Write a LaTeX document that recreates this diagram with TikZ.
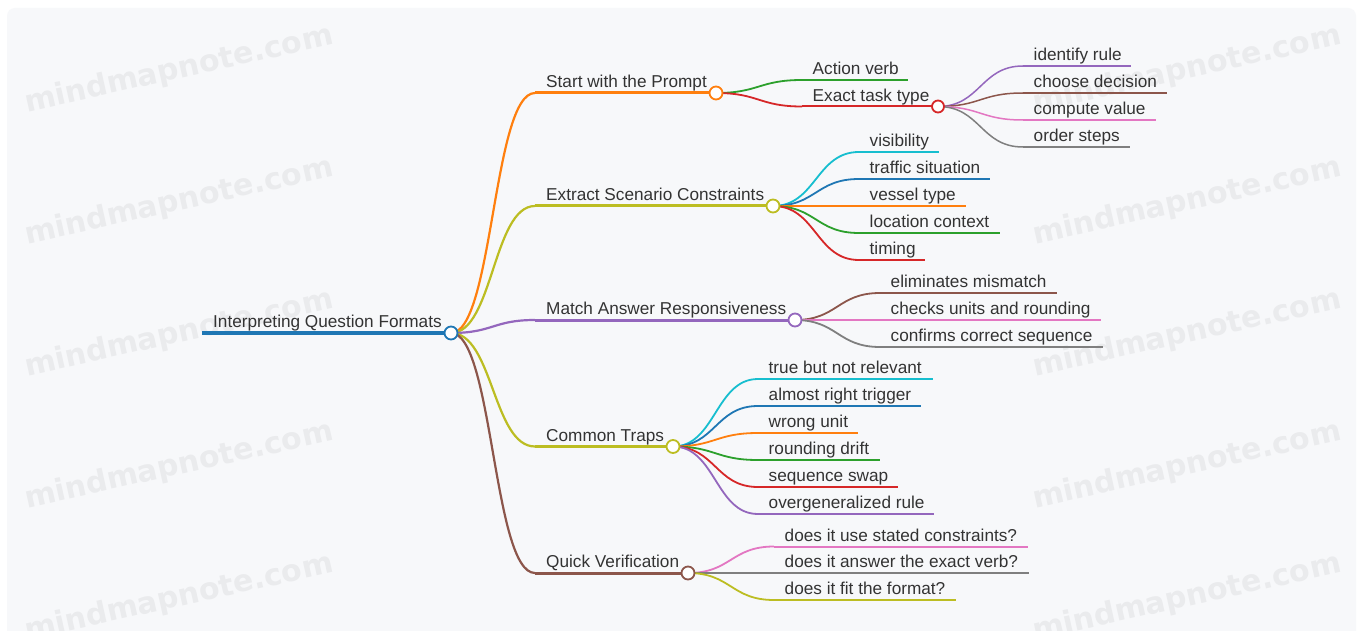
\documentclass[tikz,border=0pt]{standalone}
\usepackage{fontspec}
\setmainfont{Liberation Sans}
\newfontfamily\wmfont{DejaVu Sans}[BoldFont={DejaVu Sans Bold}]
\usetikzlibrary{calc}
\definecolor{mmblue}{HTML}{1F77B4}
\definecolor{mmorange}{HTML}{FF7F0E}
\definecolor{mmgreen}{HTML}{2CA02C}
\definecolor{mmred}{HTML}{D62728}
\definecolor{mmpurple}{HTML}{9467BD}
\definecolor{mmbrown}{HTML}{8C564B}
\definecolor{mmpink}{HTML}{E377C2}
\definecolor{mmgray}{HTML}{7F7F7F}
\definecolor{mmolive}{HTML}{BCBD22}
\definecolor{mmcyan}{HTML}{17BECF}
\definecolor{txt}{HTML}{333333}
\definecolor{bgc}{HTML}{F7F8FA}
\definecolor{wmc}{HTML}{EAEBED}
\tikzset{
  lbl/.style={anchor=base west, inner sep=0pt, text=txt, font=\fontsize{17.2}{20}\selectfont},
  wm/.style={text=wmc, inner sep=0pt, rotate=12.5, font=\wmfont\bfseries\fontsize{30}{33}\selectfont},
  l0/.style={#1, line width=4.5pt},
  l1/.style={#1, line width=3pt},
  l2/.style={#1, line width=2pt},
  l3/.style={#1, line width=1.6pt},
  k1/.style={#1, line width=2.2pt},
  k2/.style={#1, line width=1.8pt},
  k3/.style={#1, line width=1.5pt},
  dot/.style={draw=#1, fill=white, line width=1.8pt},
}
% name, x start, x end, y, line style, text, text offset
\newcommand\mmitem[7]{%
  \coordinate (#1-s) at (#2,#4);
  \coordinate (#1-e) at (#3,#4);
  \draw[#5] (#1-s) -- (#1-e);
  \node[lbl] (#1) at ([xshift=#7pt,yshift=5.2pt]#1-s) {#6};}
% from, to, style
\newcommand\mmlink[3]{%
  \draw[#3] let \p1=(#1), \p2=(#2) in
    (\p1) .. controls ({0.5*\x1+0.5*\x2},\y1) and ({0.5*\x1+0.5*\x2},\y2) .. (\p2);}
\begin{document}
\begin{tikzpicture}[x=1pt,y=-1pt]
\useasboundingbox (0,0) rectangle (1362,631);
\clip (0,0) rectangle (1362,631);
\fill[white] (0,0) rectangle (1362,631);
\fill[bgc, rounded corners=8pt] (7,8) rectangle (1356,660);
% watermarks
\foreach \yy in {70,202,334,466,598}{
  \node[wm] at (179,\yy) {mindmapnote.com};
  \node[wm] at (1187,\yy) {mindmapnote.com};
}
% root
\mmitem{root}{202}{451}{333}{l0=mmblue}{Interpreting Question Formats}{11}
% level 1
\mmitem{p}{535}{716}{93}{l1=mmorange}{Start with the Prompt}{11}
\mmitem{c}{535}{773}{206}{l1=mmolive}{Extract Scenario Constraints}{11}
\mmitem{m}{535}{795}{320}{l1=mmpurple}{Match Answer Responsiveness}{11}
\mmitem{t}{535}{673}{446.5}{l1=mmolive}{Common Traps}{11}
\mmitem{v}{535}{688}{573}{l1=mmbrown}{Quick Verification}{11}
% level 2: prompt
\mmitem{pa}{802}{908}{80}{l2=mmgreen}{Action verb}{10.5}
\mmitem{pe}{802}{938}{106.5}{l2=mmred}{Exact task type}{10.5}
% level 3: exact task type
\mmitem{pe1}{1023}{1131}{66}{l3=mmpurple}{identify rule}{10.5}
\mmitem{pe2}{1023}{1167}{93}{l3=mmbrown}{choose decision}{10.5}
\mmitem{pe3}{1023}{1156}{120}{l3=mmpink}{compute value}{10.5}
\mmitem{pe4}{1023}{1130}{147}{l3=mmgray}{order steps}{10.5}
% level 2: constraints
\mmitem{c1}{859}{939}{152}{l2=mmcyan}{visibility}{10.5}
\mmitem{c2}{859}{990}{179}{l2=mmblue}{traffic situation}{10.5}
\mmitem{c3}{859}{966}{206}{l2=mmorange}{vessel type}{10.5}
\mmitem{c4}{859}{1000}{233}{l2=mmgreen}{location context}{10.5}
\mmitem{c5}{859}{925}{260}{l2=mmred}{timing}{10.5}
% level 2: responsiveness
\mmitem{m1}{880}{1057}{293}{l2=mmbrown}{eliminates mismatch}{10.5}
\mmitem{m2}{880}{1101}{320}{l2=mmpink}{checks units and rounding}{10.5}
\mmitem{m3}{880}{1103}{347}{l2=mmgray}{confirms correct sequence}{10.5}
% level 2: traps
\mmitem{t1}{758}{933}{379}{l2=mmcyan}{true but not relevant}{10.5}
\mmitem{t2}{758}{921}{406}{l2=mmblue}{almost right trigger}{10.5}
\mmitem{t3}{758}{858}{433}{l2=mmorange}{wrong unit}{10.5}
\mmitem{t4}{758}{880}{460}{l2=mmgreen}{rounding drift}{10.5}
\mmitem{t5}{758}{898}{487}{l2=mmred}{sequence swap}{10.5}
\mmitem{t6}{758}{934}{514}{l2=mmpurple}{overgeneralized rule}{10.5}
% level 2: verification
\mmitem{v1}{774}{1028}{546.5}{l2=mmpink}{does it use stated constraints?}{10.5}
\mmitem{v2}{774}{1029}{573}{l2=mmgray}{does it answer the exact verb?}{10.5}
\mmitem{v3}{774}{956}{600}{l2=mmolive}{does it fit the format?}{10.5}
% links
\mmlink{root-e}{p-s}{k1=mmorange}
\mmlink{root-e}{c-s}{k1=mmolive}
\mmlink{root-e}{m-s}{k1=mmpurple}
\mmlink{root-e}{t-s}{k1=mmolive}
\mmlink{root-e}{v-s}{k1=mmbrown}
\mmlink{p-e}{pa-s}{k2=mmgreen}
\mmlink{p-e}{pe-s}{k2=mmred}
\mmlink{pe-e}{pe1-s}{k3=mmpurple}
\mmlink{pe-e}{pe2-s}{k3=mmbrown}
\mmlink{pe-e}{pe3-s}{k3=mmpink}
\mmlink{pe-e}{pe4-s}{k3=mmgray}
\mmlink{c-e}{c1-s}{k2=mmcyan}
\mmlink{c-e}{c2-s}{k2=mmblue}
\mmlink{c-e}{c3-s}{k2=mmorange}
\mmlink{c-e}{c4-s}{k2=mmgreen}
\mmlink{c-e}{c5-s}{k2=mmred}
\mmlink{m-e}{m1-s}{k2=mmbrown}
\mmlink{m-e}{m2-s}{k2=mmpink}
\mmlink{m-e}{m3-s}{k2=mmgray}
\mmlink{t-e}{t1-s}{k2=mmcyan}
\mmlink{t-e}{t2-s}{k2=mmblue}
\mmlink{t-e}{t3-s}{k2=mmorange}
\mmlink{t-e}{t4-s}{k2=mmgreen}
\mmlink{t-e}{t5-s}{k2=mmred}
\mmlink{t-e}{t6-s}{k2=mmpurple}
\mmlink{v-e}{v1-s}{k2=mmpink}
\mmlink{v-e}{v2-s}{k2=mmgray}
\mmlink{v-e}{v3-s}{k2=mmolive}
% circles
\draw[dot=mmblue] (root-e) circle[radius=6.5pt];
\draw[dot=mmorange] (p-e) circle[radius=6.5pt];
\draw[dot=mmolive] (c-e) circle[radius=6.5pt];
\draw[dot=mmpurple] (m-e) circle[radius=6.5pt];
\draw[dot=mmolive] (t-e) circle[radius=6.5pt];
\draw[dot=mmbrown] (v-e) circle[radius=6.5pt];
\draw[dot=mmred] (pe-e) circle[radius=6pt];
\end{tikzpicture}
\end{document}
